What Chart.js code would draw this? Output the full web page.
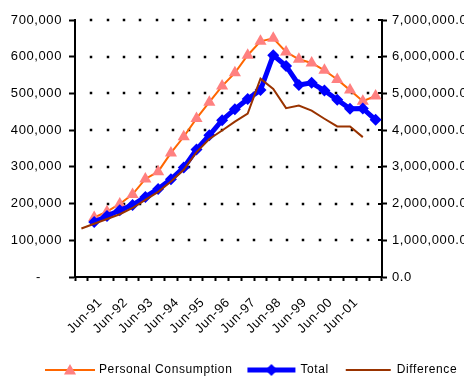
<!DOCTYPE html>
<html>
<head>
<meta charset="utf-8">
<script src="https://cdn.jsdelivr.net/npm/chart.js@4/dist/chart.umd.min.js"></script>
<style>
html,body{margin:0;padding:0;background:#fff;}
canvas{display:block;}
</style>
</head>
<body>
<canvas id="c" width="464" height="376"></canvas>
<script>
// ---- data ----
const categories = ['Dec-90','Jun-91','Dec-91','Jun-92','Dec-92','Jun-93','Dec-93','Jun-94','Dec-94','Jun-95','Dec-95','Jun-96',
                    'Dec-96','Jun-97','Dec-97','Jun-98','Dec-98','Jun-99','Dec-99','Jun-00','Dec-00','Jun-01','Dec-01','Jun-02'];
const xTickLabels = ['','Jun-91','','Jun-92','','Jun-93','','Jun-94','','Jun-95','','Jun-96',
                     '','Jun-97','','Jun-98','','Jun-99','','Jun-00','','Jun-01','',''];
const personalConsumption = [null,162000,178000,199000,225000,267000,287000,338000,382000,432000,476000,520000,
                             556000,604000,642000,650000,613000,593000,583000,563000,538000,509000,479000,493000];
const total = [null,1500000,1660000,1820000,1960000,2180000,2400000,2660000,2980000,3470000,3860000,4270000,
               4570000,4850000,5090000,6040000,5750000,5230000,5290000,5080000,4830000,4580000,4590000,4280000];
const difference = [132000,145000,158000,171000,188000,210000,232000,260000,292000,340000,376000,399000,
                    423000,445000,540000,512000,460000,467000,453000,431000,410000,410000,381000,null];
const leftTickValues = [0,100000,200000,300000,400000,500000,600000,700000];
const leftTickLabels = ['-     ','100,000','200,000','300,000','400,000','500,000','600,000','700,000'];
const rightTickValues = [0,1000000,2000000,3000000,4000000,5000000,6000000,7000000];
const rightTickLabels = ['0.0','1,000,000.0','2,000,000.0','3,000,000.0','4,000,000.0','5,000,000.0','6,000,000.0','7,000,000.0'];

const FONT = 'Arial, "Liberation Sans", sans-serif';
Chart.defaults.font.family = FONT;
Chart.defaults.font.size = 13;
Chart.defaults.color = '#000';

function legendSample(kind) {
  const cv = document.createElement('canvas');
  cv.width = 50; cv.height = 16;
  const g = cv.getContext('2d');
  const cy = 8;
  if (kind === 'pc') {
    g.strokeStyle = '#FF6600'; g.lineWidth = 2;
    g.beginPath(); g.moveTo(0, cy); g.lineTo(50, cy); g.stroke();
    g.fillStyle = '#FF8080';
    const r = 7;
    g.beginPath();
    for (let k = 0; k < 3; k++) {
      const a = k * 2 * Math.PI / 3;
      const px = 25 + Math.sin(a) * r, py = cy + 1 - Math.cos(a) * r;
      if (k === 0) g.moveTo(px, py); else g.lineTo(px, py);
    }
    g.closePath(); g.fill();
  } else if (kind === 'total') {
    g.strokeStyle = '#0000FF'; g.lineWidth = 5;
    g.beginPath(); g.moveTo(1, cy); g.lineTo(49, cy); g.stroke();
    g.fillStyle = '#0000FF';
    g.beginPath(); g.moveTo(25, cy - 6); g.lineTo(31, cy); g.lineTo(25, cy + 6); g.lineTo(19, cy); g.closePath(); g.fill();
  } else {
    g.strokeStyle = '#993300'; g.lineWidth = 2;
    g.beginPath(); g.moveTo(3, cy); g.lineTo(48, cy); g.stroke();
  }
  return cv;
}
const samples = [legendSample('pc'), legendSample('total'), legendSample('diff')];

function setSpacing(chart) { try { chart.ctx.letterSpacing = '0.6px'; } catch (e) {} }
const spacing = {
  id: 'spacing',
  beforeUpdate: setSpacing,
  beforeLayout: setSpacing,
  beforeDraw: setSpacing
};

const legendPlace = {
  id: 'legendPlace',
  afterLayout(chart) {
    const lg = chart.legend;
    if (!lg || !lg.lineWidths) return;
    const pad = lg.options.labels.padding;
    const cx = (lg.left + pad + lg.right - lg.lineWidths[0]) / 2;
    const dx = 47 - cx;
    lg.left += dx; lg.right += dx;
    const h = lg.height;
    lg.top = 370 - pad - 6;
    lg.bottom = lg.top + h;
  }
};

const dottedGrid = {
  id: 'dottedGrid',
  beforeDatasetsDraw(chart) {
    const ctx = chart.ctx;
    const a = chart.chartArea;
    const ys = chart.scales.y;
    const ys2 = chart.scales.y2;
    ctx.save();
    ctx.setLineDash([]);
    ctx.fillStyle = '#000000';
    for (let i = 1; i < leftTickValues.length; i++) {
      const py = Math.round(ys.getPixelForValue(leftTickValues[i]));
      for (let k = 1; a.left + 16.3 * k < a.right - 4; k++) {
        const x = Math.round(a.left + 16.3 * k);
        ctx.fillRect(x - 1.25, py - 1.25, 2.5, 2.5);
      }
    }
    for (let i = 0; i < rightTickValues.length; i++) {
      const py = Math.round(ys2.getPixelForValue(rightTickValues[i]));
      ctx.fillRect(a.right - 4, py - 1, 4, 2);
    }
    ctx.restore();
  }
};

new Chart(document.getElementById('c'), {
  type: 'line',
  data: {
    labels: categories,
    datasets: [
      { label: 'Personal Consumption', data: personalConsumption, yAxisID: 'y',
        borderColor: '#FF6600', borderWidth: 2, tension: 0,
        pointStyle: 'triangle', pointRadius: 7, pointBackgroundColor: '#FF8080', pointBorderColor: '#FF8080', pointBorderWidth: 0,
        order: 2 },
      { label: 'Total', data: total, yAxisID: 'y2',
        borderColor: '#0000FF', borderWidth: 5, tension: 0,
        pointStyle: 'rectRot', pointRadius: 6, pointBackgroundColor: '#0000FF', pointBorderColor: '#0000FF', pointBorderWidth: 0,
        order: 1 },
      { label: 'Difference', data: difference, yAxisID: 'y',
        borderColor: '#993300', borderWidth: 2, tension: 0, pointRadius: 0,
        order: 0 }
    ]
  },
  options: {
    responsive: false,
    devicePixelRatio: 1,
    animation: false,
    layout: { padding: { top: 20, left: 0, right: 0, bottom: 0 } },
    plugins: {
      tooltip: { enabled: false },
      legend: {
        position: 'bottom',
        labels: {
          usePointStyle: true,
          pointStyleWidth: 46,
          padding: 16,
          font: { size: 12, family: FONT },
          color: '#000',
          sort: (a, b) => a.datasetIndex - b.datasetIndex,
          generateLabels: (chart) => chart.data.datasets.map((ds, i) => ({
            text: ds.label, datasetIndex: i, pointStyle: samples[i],
            fillStyle: ds.borderColor, strokeStyle: ds.borderColor, lineWidth: 0, hidden: false
          }))
        }
      }
    },
    scales: {
      x: {
        type: 'category',
        offset: true,
        grid: { offset: true, drawOnChartArea: false, drawTicks: true, tickLength: 4, tickWidth: 2, tickColor: '#000', color: '#000' },
        border: { display: true, color: '#000', width: 2 },
        ticks: { autoSkip: false, maxRotation: 45, minRotation: 45, padding: 14, labelOffset: 6,
                 font: { size: 13, family: FONT }, color: '#000',
                 callback: (v, i) => xTickLabels[i] },
        afterFit: (s) => { const lh = s.chart.legend ? s.chart.legend.height : 0; s.height = 376 - 277 - lh; }
      },
      y: {
        position: 'left',
        min: 0, max: 700000,
        ticks: { stepSize: 100000, padding: 7, font: { size: 13, family: FONT }, color: '#000',
                 callback: (v, i) => leftTickLabels[i] },
        grid: { drawOnChartArea: false, color: '#000', tickLength: 6, tickWidth: 2, tickColor: '#000' },
        border: { display: true, color: '#000', width: 2 },
        afterFit: (s) => { s.width = 75; }
      },
      y2: {
        position: 'right',
        min: 0, max: 7000000,
        ticks: { stepSize: 1000000, padding: 5, font: { size: 13, family: FONT }, color: '#000',
                 callback: (v, i) => rightTickLabels[i] },
        grid: { drawOnChartArea: false, tickLength: 5, tickWidth: 2, tickColor: '#000', color: '#000' },
        border: { display: true, color: '#000', width: 2 },
        afterFit: (s) => { s.width = 82; }
      }
    }
  },
  plugins: [spacing, legendPlace, dottedGrid]
});
</script>
</body>
</html>
